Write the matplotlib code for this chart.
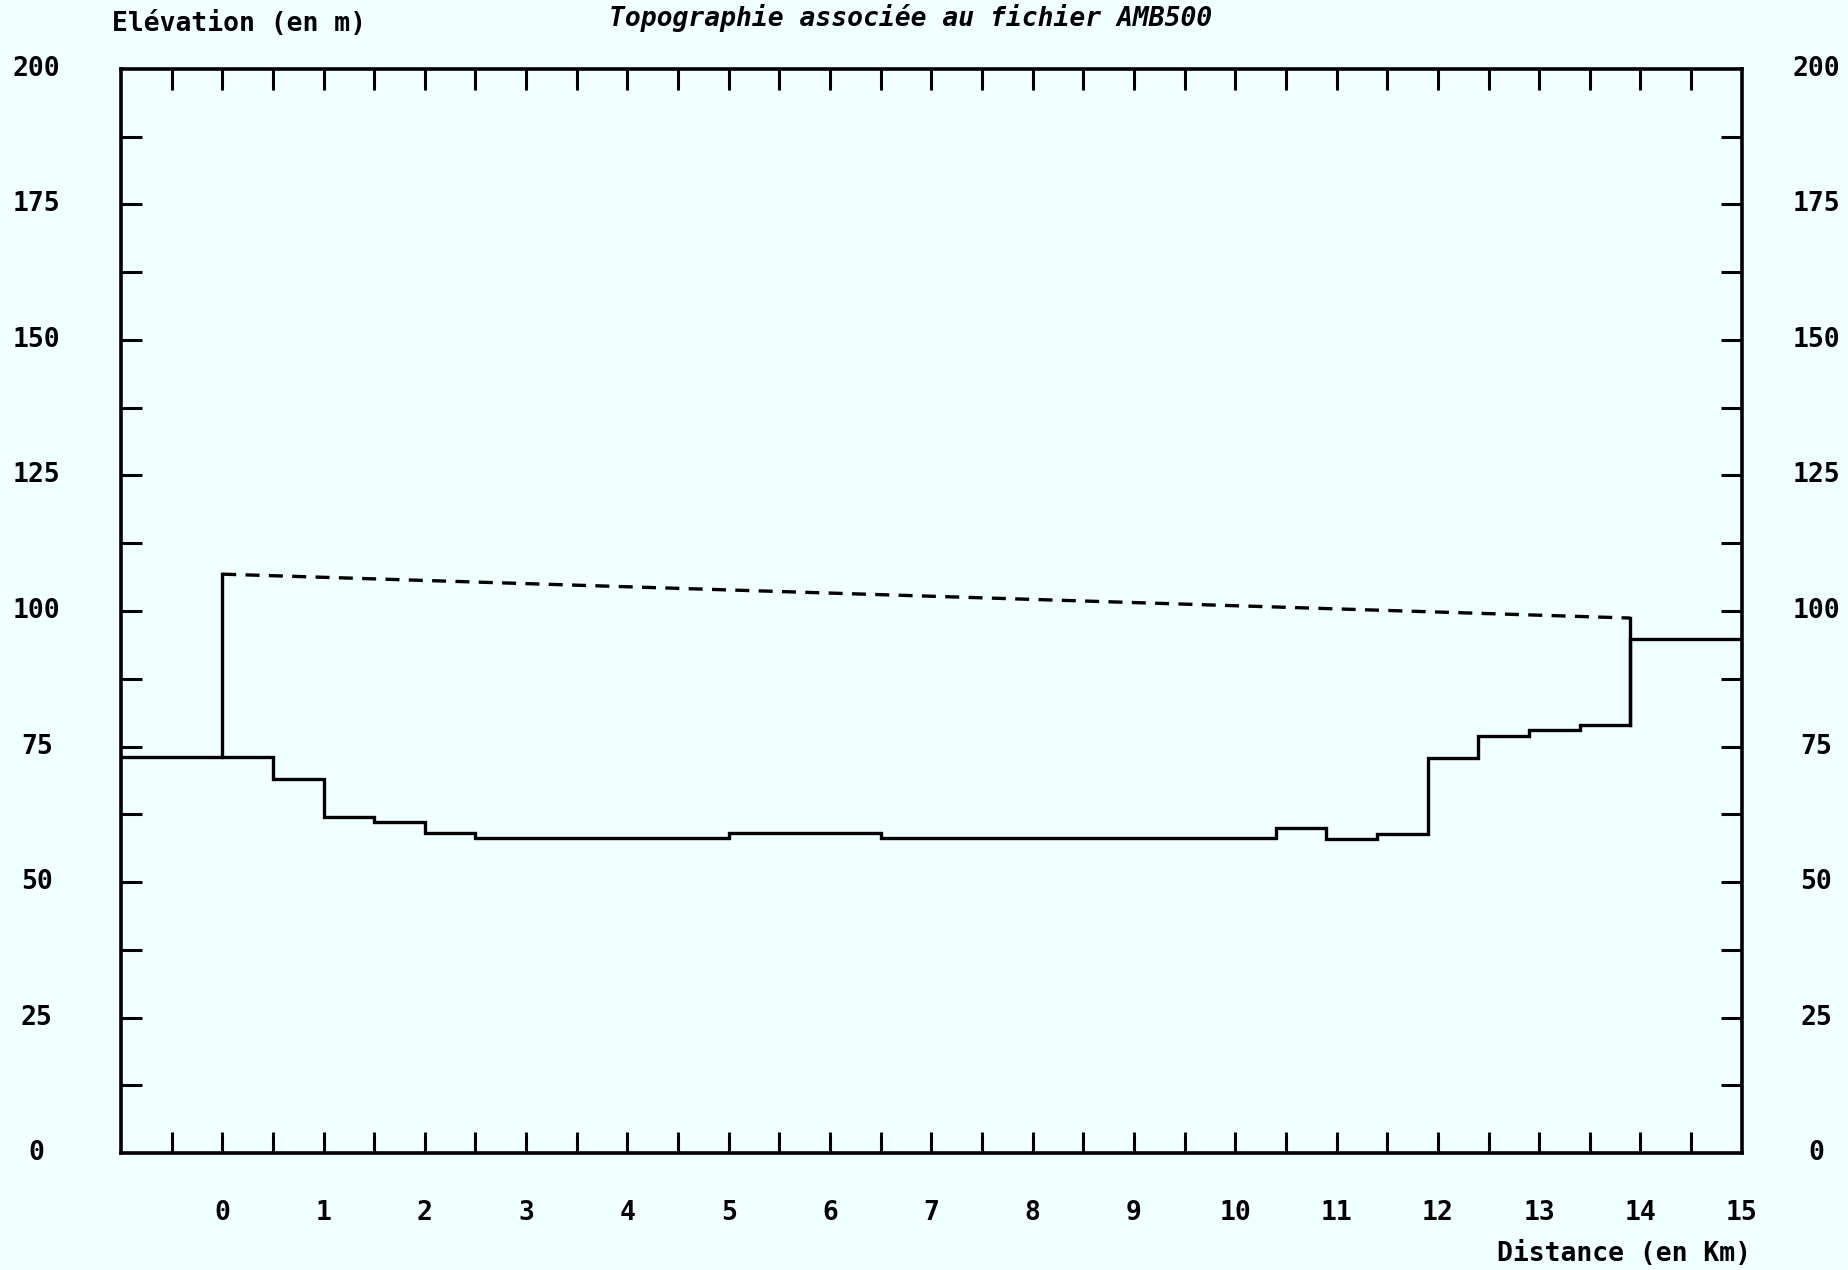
import numpy as np
from matplotlib import pyplot as plt

# step edges (km) and ground elevation (m) for each step
edges = [-1, 0.5, 1.0, 1.5, 2.0, 2.5, 5.0, 6.5, 10.4, 10.9, 11.4, 11.9, 12.4, 12.9, 13.4, 13.9, 15]
elev = [73.0, 69.0, 62.0, 61.1, 59.1, 58.2, 59.0, 58.1, 60.0, 57.9, 58.9, 72.9, 76.9, 78.0, 79.0, 94.8]
# dashed level between the two banks
level_x = [0.0, 13.9]
level_y = [106.8, 98.7]

xlabels = [str(i) for i in range(16)]
ylabels = ['0', '25', '50', '75', '100', '125', '150', '175', '200']

bg = '#f0ffff'
fnt = dict(family='DejaVu Sans Mono', weight='bold', size=19)

fig = plt.figure(figsize=(18.49, 12.7), dpi=100, facecolor=bg)
ax = fig.add_axes([0.0654, 0.0921, 0.8766, 0.8536], facecolor=bg)

# ground profile
ax.stairs(elev, edges, color='k', lw=2.4, baseline=None)
# vertical walls up to the level line
ax.plot([level_x[0], level_x[0]], [elev[0], level_y[0]], color='k', lw=2.4)
ax.plot([level_x[1], level_x[1]], [elev[-2], level_y[1]], color='k', lw=2.4)
ax.plot(level_x, level_y, color='k', lw=2.4, ls=(0, (4.2, 2.8)))

ax.set_xlim(-1, 15)
ax.set_ylim(0, 200)
for s in ax.spines.values():
    s.set_linewidth(2.6)

ax.set_xticks(np.arange(-0.5, 15, 0.5))
ax.set_xticklabels([])
ax.set_yticks(np.arange(12.5, 200, 12.5))
ax.set_yticklabels([])
ax.tick_params(direction='in', length=15, width=2.2, top=True, right=True,
               bottom=True, left=True)

# axis numbers drawn as text so they sit where the plotter put them
for i, lab in enumerate(xlabels):
    ax.text(i, -0.055, lab, transform=ax.get_xaxis_transform(), ha='center', va='center', **fnt)
for i, lab in enumerate(ylabels):
    y = i * 25
    ax.text(-0.052, y, lab, transform=ax.get_yaxis_transform(), ha='center', va='center', **fnt)
    ax.text(1.046, y, lab, transform=ax.get_yaxis_transform(), ha='center', va='center', **fnt)

fig.text(112 / 1849, 1 - 24 / 1270, 'Elévation (en m)', ha='left', va='center', **fnt)
fig.text(1751 / 1849, 1 - 1254 / 1270, 'Distance (en Km)', ha='right', va='center', **fnt)
fig.text(911 / 1849, 1 - 4 / 1270, 'Topographie associée au fichier AMB500',
         ha='center', va='top', family='DejaVu Sans Mono', style='oblique',
         weight='bold', size=19)

fig.savefig('out.png', dpi=100, facecolor=bg)
